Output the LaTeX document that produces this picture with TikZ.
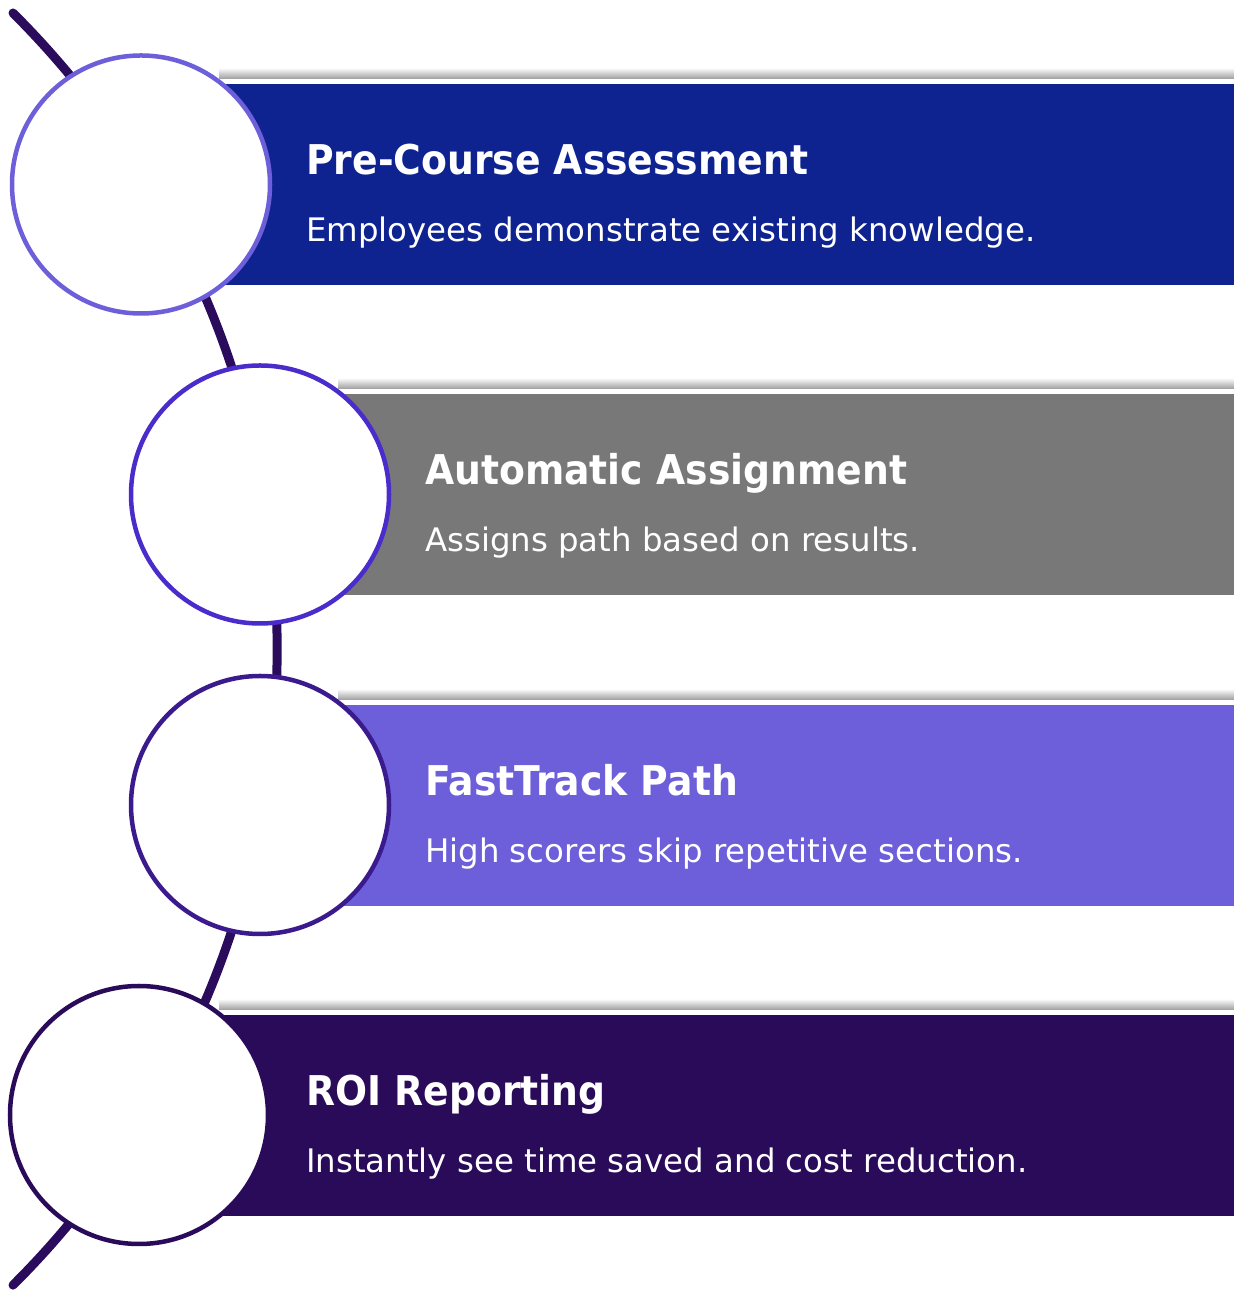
\documentclass[tikz,border=0pt]{standalone}
\usepackage{fontspec}
\setmainfont{DejaVu Sans}
\newfontfamily\ttlfont[FakeStretch=0.92]{DejaVu Sans}
\definecolor{bandA}{HTML}{0F2390}
\definecolor{bandB}{HTML}{787878}
\definecolor{bandC}{HTML}{6C5FD9}
\definecolor{bandD}{HTML}{2A0B5A}
\definecolor{ringA}{HTML}{6C5FD9}
\definecolor{ringB}{HTML}{4A2BCB}
\definecolor{ringC}{HTML}{3A1A8C}
\definecolor{ringD}{HTML}{2A0B5A}
\definecolor{spine}{HTML}{2A0B5C}
\tikzset{
  band/.style={draw=none, minimum height=201pt, inner sep=0pt, anchor=north west},
  shade bar/.style={draw=none, top color=white, bottom color=black!38, minimum height=11pt, inner sep=0pt, anchor=south west},
  ring/.style={circle, draw=#1, line width=4.5pt, fill=white, minimum size=258pt, inner sep=0pt},
  ttl/.style={anchor=base west, inner sep=0pt, text=white, font=\ttlfont\bfseries\fontsize{41}{45}\selectfont},
  desc/.style={anchor=base west, inner sep=0pt, text=white, font=\fontsize{32.4}{38}\selectfont},
  spineline/.style={draw=spine, line width=9pt, line cap=round}
}
\begin{document}
\begin{tikzpicture}[x=1pt,y=1pt]
\useasboundingbox[fill=white] (0,0) rectangle (1234,1291);
% spine arc (behind circles)
\coordinate (spinetop) at (13,1278);
\draw[spineline] (spinetop) arc[start angle=45.1, end angle=-45.1, radius=898] coordinate (spinebot);
% shadow bars
\node[shade bar, minimum width=1015pt] (s1) at (219,1212) {};
\node[shade bar, minimum width=896pt] (s2) at (338,902) {};
\node[shade bar, minimum width=896pt] (s3) at (338,591) {};
\node[shade bar, minimum width=1015pt] (s4) at (219,281) {};
% bands
\node[band, fill=bandA, minimum width=1093pt] (b1) at (141,1207) {};
\node[band, fill=bandB, minimum width=974pt] (b2) at (260,897) {};
\node[band, fill=bandC, minimum width=974pt] (b3) at (260,586) {};
\node[band, fill=bandD, minimum width=1093pt] (b4) at (141,276) {};
% circles
\node[ring=ringA] (c1) at (141,1106.5) {};
\node[ring=ringB] (c2) at (260,796.5) {};
\node[ring=ringC] (c3) at (260,486) {};
\node[ring=ringD] (c4) at (139,176) {};
% texts
\node[ttl] (t1) at (306,1116) {Pre-Course Assessment};
\node[desc] (d1) at (306,1049) {Employees demonstrate existing knowledge.};
\node[ttl] (t2) at (425,806) {Automatic Assignment};
\node[desc] (d2) at (425,739) {Assigns path based on results.};
\node[ttl] (t3) at (425,495) {FastTrack Path};
\node[desc] (d3) at (425,428) {High scorers skip repetitive sections.};
\node[ttl] (t4) at (306,185) {ROI Reporting};
\node[desc] (d4) at (306,118) {Instantly see time saved and cost reduction.};
\end{tikzpicture}
\end{document}
